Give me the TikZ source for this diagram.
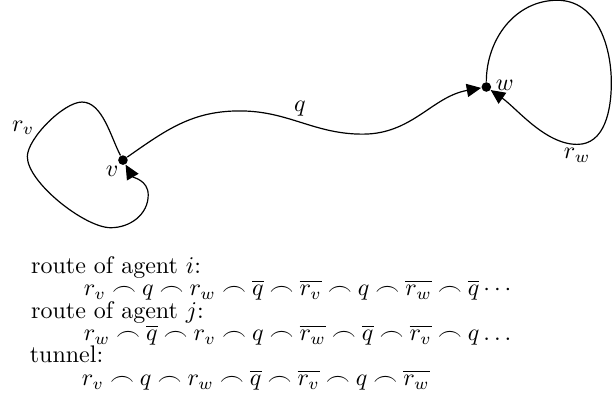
\documentclass[tikz,border=0pt]{standalone}
\usepackage{amsmath}
\usetikzlibrary{arrows.meta, math}

\tikzset{
  dot/.style={circle, fill=black, inner sep=0pt, minimum size=4pt},
  route/.style={line width=0.5pt, -{Triangle[length=6pt,width=5.5pt]}},
  line/.style={anchor=base west, inner sep=0pt},
}

\begin{document}
\thickmuskip=4.5mu
\begin{tikzpicture}
\tikzmath{
\W=8.96;
\H=5.944;
}
\useasboundingbox (0,0) rectangle (\W,\H);

\node[dot] (v) at (1.80,3.60) {};
\node[dot] (w) at (7.12,4.67) {};

\coordinate (Vtop) at (1.20,4.45);
\coordinate (Vleft) at (0.40,3.65);
\coordinate (Vbot) at (1.62,2.61);
\coordinate (Vright) at (2.17,3.09);

\coordinate (Wtop) at (8.16,5.94);
\coordinate (Wright) at (8.95,4.73);
\coordinate (Wbot) at (8.45,3.83);

\coordinate (Qhigh) at (3.51,4.32);
\coordinate (Qlow) at (5.31,3.98);

\draw[route] (v) to[out=118,in=0,looseness=0.8] (Vtop)
  to[out=180,in=90,looseness=0.6] (Vleft)
  to[out=-90,in=180,looseness=0.6] (Vbot)
  to[out=0,in=-90] (Vright) to[out=90,in=-60] (v);
\draw[route] (w) to[out=90,in=180] (Wtop) to[out=0,in=90] (Wright)
  to[out=-90,in=0] (Wbot) to[out=180,in=-35,looseness=0.8] (w);
\draw[route] (v) to[out=35,in=180] (Qhigh) to[out=0,in=180] (Qlow)
  to[out=0,in=190] (w);

\node (rv) at (0.34,4.07) {$r_v$};
\node (lv) at (1.64,3.43) {$v$};
\node (lw) at (7.39,4.70) {$w$};
\node (rw) at (8.45,3.67) {$r_w$};
\node (lq) at (4.39,4.36) {$q$};

\node[line] (ti) at (0.45,1.947) {route of agent $i$:};
\node[line] (ri) at (1.22,1.618)
  {$r_v \frown q \frown r_w \frown \overline{q} \frown \overline{r_v} \frown q \frown \overline{r_w} \frown \overline{q}\cdots$};
\node[line] (tj) at (0.45,1.288) {route of agent $j$:};
\node[line] (rj) at (1.22,0.959)
  {$r_w \frown \overline{q} \frown r_v \frown q \frown \overline{r_w} \frown \overline{q} \frown \overline{r_v} \frown q\ldots$};
\node[line] (tt) at (0.43,0.630) {tunnel:};
\node[line] (rt) at (1.19,0.300)
  {$r_v \frown q \frown r_w \frown \overline{q} \frown \overline{r_v} \frown q \frown \overline{r_w}$};
\end{tikzpicture}
\end{document}
